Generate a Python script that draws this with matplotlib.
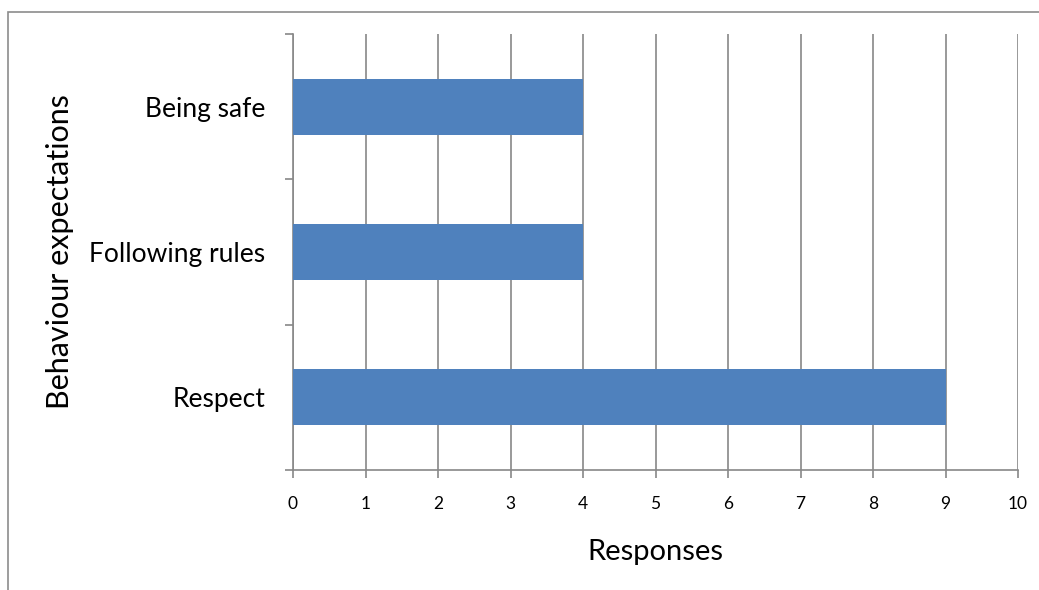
import matplotlib.pyplot as plt
from matplotlib.patches import Rectangle
import numpy as np

# Data
categories = ['Respect', 'Following rules', 'Being safe']
responses = [9, 4, 4]
x_ticks = list(range(0, 11))

plt.rcParams['font.family'] = ['Lato', 'DejaVu Sans']

fig = plt.figure(figsize=(10.39, 5.9), dpi=100)
ax = fig.add_axes([293 / 1039, 1 - 470 / 590, 725 / 1039, 436 / 590])

# outer chart border (cropped at right/bottom in the reference)
fig.patches.append(Rectangle((8 / 1039, -0.1), 1.2, 1 - 12 / 590 + 0.1,
                             transform=fig.transFigure, fill=False,
                             edgecolor='#8c8c8c', linewidth=1.2))

pos = np.arange(len(categories))
ax.barh(pos, responses, height=0.385, color='#4F81BD', zorder=3)

ax.set_xlim(0, 10)
ax.set_ylim(-0.5, len(categories) - 0.5)
ax.set_xticks(x_ticks)
ax.set_xticklabels([str(t) for t in x_ticks], fontsize=12.5)
ax.set_yticks(pos)
ax.set_yticklabels(categories, fontsize=19)
ax.set_yticks(np.arange(-0.5, len(categories)), minor=True)

ax.grid(axis='x', color='#888888', linewidth=1.2, zorder=0)
for s in ['top', 'right']:
    ax.spines[s].set_visible(False)
for s in ['left', 'bottom']:
    ax.spines[s].set_color('#888888')
    ax.spines[s].set_linewidth(1.2)

ax.tick_params(axis='y', which='major', length=0, pad=20)
ax.tick_params(axis='y', which='minor', length=6, color='#888888', width=1.2)
ax.tick_params(axis='x', length=6, color='#888888', width=1.2, pad=13)

ax.set_xlabel('Responses', fontsize=21, labelpad=19)
fig.text(60 / 1039, 1 - 252 / 590, 'Behaviour expectations', rotation=90,
         fontsize=22, ha='center', va='center')

fig.savefig('out.png', dpi=100)
